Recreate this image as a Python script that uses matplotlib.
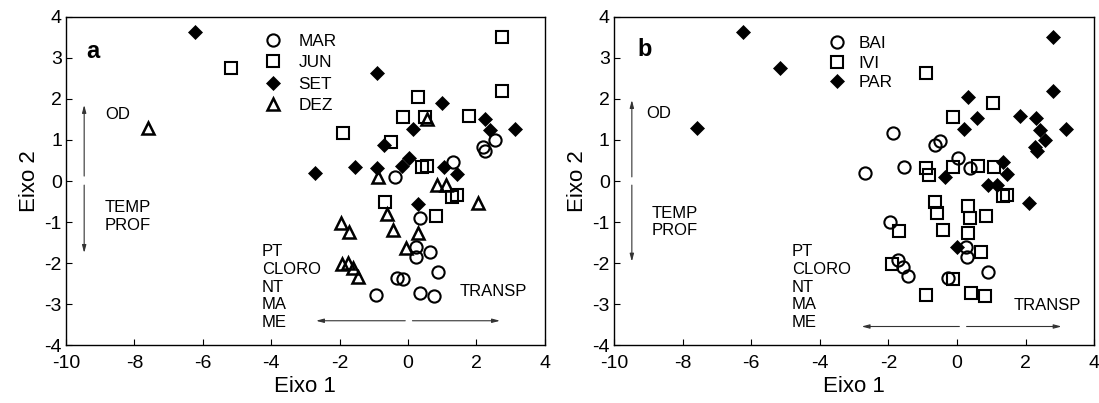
import matplotlib
matplotlib.use('Agg')
import matplotlib.pyplot as plt

plt.rcParams['font.family'] = ['Liberation Sans', 'DejaVu Sans']
plt.rcParams['axes.unicode_minus'] = False

# panel a - grouped by month
mar_x = [2.54, 2.20, 2.25, 1.31, -0.38, 0.35, 0.23, 0.64, 0.23, 0.87, -0.31, -0.14, -0.94, 0.35, 0.77]
mar_y = [1.00, 0.83, 0.74, 0.47, 0.10, -0.91, -1.60, -1.72, -1.86, -2.21, -2.37, -2.38, -2.77, -2.73, -2.79]
jun_x = [-5.18, 2.74, 2.76, 0.28, -0.14, 0.50, 1.79, -1.91, -0.50, 0.40, 0.55, -0.67, 1.42, 1.28, 0.82]
jun_y = [2.76, 3.51, 2.19, 2.05, 1.55, 1.55, 1.59, 1.16, 0.96, 0.35, 0.37, -0.50, -0.34, -0.38, -0.85]
set_x = [-6.23, -0.92, 0.99, 2.25, 2.40, 3.13, 0.16, -0.69, -2.72, -1.55, -0.92, -0.18, 0.02, 1.05, 1.42, 0.28]
set_y = [3.63, 2.62, 1.90, 1.52, 1.24, 1.26, 1.26, 0.88, 0.19, 0.35, 0.31, 0.37, 0.55, 0.35, 0.16, -0.57]
dez_x = [-7.59, 0.55, -0.87, 0.84, 1.11, 2.06, -0.62, -1.96, -1.72, -0.43, 0.30, -0.06, -1.94, -1.75, -1.60, -1.45]
dez_y = [1.28, 1.51, 0.10, -0.10, -0.10, -0.54, -0.81, -1.03, -1.23, -1.19, -1.26, -1.62, -2.03, -2.00, -2.12, -2.33]

# panel b - grouped by site
bai_x = [-1.88, -0.64, -0.50, -2.68, -1.55, 0.04, 0.38, -1.95, 0.26, 0.28, -1.71, -1.56, -1.42, -0.27, 0.91]
bai_y = [1.18, 0.88, 0.98, 0.20, 0.35, 0.55, 0.31, -0.99, -1.60, -1.84, -1.92, -2.09, -2.31, -2.37, -2.22]
ivi_x = [-0.90, 1.04, -0.11, -0.89, -0.81, -0.13, 0.62, 1.08, 1.35, 1.45, -0.64, -0.59, 0.33, 0.38,
         0.86, -1.68, -0.40, 0.33, 0.69, -1.90, -0.11, -0.91, 0.40, 0.82]
ivi_y = [2.64, 1.91, 1.55, 0.32, 0.15, 0.35, 0.37, 0.35, -0.36, -0.34, -0.50, -0.79, -0.61, -0.91,
         -0.85, -1.22, -1.19, -1.26, -1.72, -2.03, -2.39, -2.77, -2.73, -2.79]
par_x = [-6.23, -5.16, -7.59, 2.79, 2.79, 0.33, 0.57, 0.20, 1.84, 2.30, 2.42, 3.18, 2.57, 2.27, 2.32,
         1.35, 1.45, -0.35, 0.89, 1.16, 2.11, -0.01]
par_y = [3.62, 2.76, 1.30, 3.51, 2.19, 2.05, 1.53, 1.26, 1.58, 1.53, 1.24, 1.26, 1.00, 0.83, 0.74,
         0.47, 0.16, 0.10, -0.10, -0.10, -0.54, -1.60]

sty = {
    'o': dict(marker='o', ms=8.8, mfc='none', mec='k', mew=1.5),
    's': dict(marker='s', ms=8.6, mfc='none', mec='k', mew=1.5),
    'D': dict(marker='D', ms=6.9, mfc='k', mec='k', mew=0.5),
    '^': dict(marker='^', ms=9.0, mfc='none', mec='k', mew=1.8),
}
env_txt = ['PT', 'CLORO', 'NT', 'MA', 'ME']


def arrow(ax, x0, y0, x1, y1):
    ax.annotate('', xy=(x1, y1), xytext=(x0, y0),
                arrowprops=dict(arrowstyle='-|>,head_width=0.12,head_length=0.45',
                                lw=0.8, color='#333333', shrinkA=0, shrinkB=0))


def setup(ax):
    ax.set_xlim(-10, 4)
    ax.set_ylim(-4, 4)
    ax.set_xticks(range(-10, 5, 2))
    ax.set_yticks(range(-4, 5))
    ax.tick_params(direction='in', length=4, width=0.8, labelsize=14)
    ax.tick_params(axis='x', pad=7)
    ax.tick_params(axis='y', pad=3)
    for s in ax.spines.values():
        s.set_linewidth(1.0)
    ax.set_xlabel('Eixo 1', fontsize=16, labelpad=3)
    ax.set_ylabel('Eixo 2', fontsize=16, labelpad=3)


fig = plt.figure(figsize=(10.99, 4.03), dpi=100)
ax1 = fig.add_axes([0.0601, 0.1429, 0.4356, 0.8159])
ax2 = fig.add_axes([0.5587, 0.1429, 0.4369, 0.8159])

# --- panel a
setup(ax1)
ax1.plot(mar_x, mar_y, ls='none', label='MAR', **sty['o'])
ax1.plot(jun_x, jun_y, ls='none', label='JUN', **sty['s'])
ax1.plot(set_x, set_y, ls='none', label='SET', **sty['D'])
ax1.plot(dez_x, dez_y, ls='none', label='DEZ', **sty['^'])
ax1.legend(loc='upper left', bbox_to_anchor=(0.415, 0.948), frameon=False, fontsize=12.4,
           handlelength=1.0, handletextpad=0.95, labelspacing=0.37, borderpad=0, borderaxespad=0)
ax1.text(-9.4, 3.15, 'a', fontsize=17, fontweight='bold', va='center', ha='left')
ax1.text(-8.86, 1.61, 'OD', fontsize=12, va='center')
ax1.text(-8.86, -0.865, 'TEMP\nPROF', fontsize=12, va='center', linespacing=1.22)
ax1.text(-4.28, -2.58, '\n'.join(env_txt), fontsize=12, va='center', linespacing=1.22)
ax1.text(1.52, -2.68, 'TRANSP', fontsize=12, va='center')
arrow(ax1, -9.47, 0.12, -9.47, 1.85)
arrow(ax1, -9.47, -0.10, -9.47, -1.75)
arrow(ax1, -0.08, -3.40, -2.69, -3.40)
arrow(ax1, 0.13, -3.40, 2.69, -3.40)

# --- panel b
setup(ax2)
ax2.plot(bai_x, bai_y, ls='none', label='BAI', **sty['o'])
ax2.plot(ivi_x, ivi_y, ls='none', label='IVI', **sty['s'])
ax2.plot(par_x, par_y, ls='none', label='PAR', **sty['D'])
ax2.legend(loc='upper left', bbox_to_anchor=(0.446, 0.942), frameon=False, fontsize=12.4,
           handlelength=1.0, handletextpad=0.75, labelspacing=0.28, borderpad=0, borderaxespad=0)
ax2.text(-9.32, 3.19, 'b', fontsize=17, fontweight='bold', va='center', ha='left')
ax2.text(-9.05, 1.65, 'OD', fontsize=12, va='center')
ax2.text(-8.9, -0.995, 'TEMP\nPROF', fontsize=12, va='center', linespacing=1.22)
ax2.text(-4.82, -2.58, '\n'.join(env_txt), fontsize=12, va='center', linespacing=1.22)
ax2.text(1.64, -3.04, 'TRANSP', fontsize=12, va='center')
arrow(ax2, -9.48, 0.10, -9.48, 1.97)
arrow(ax2, -9.48, -0.10, -9.48, -1.96)
arrow(ax2, 0.07, -3.54, -2.78, -3.54)
arrow(ax2, 0.28, -3.54, 3.05, -3.54)

fig.savefig('out.png', dpi=100)
